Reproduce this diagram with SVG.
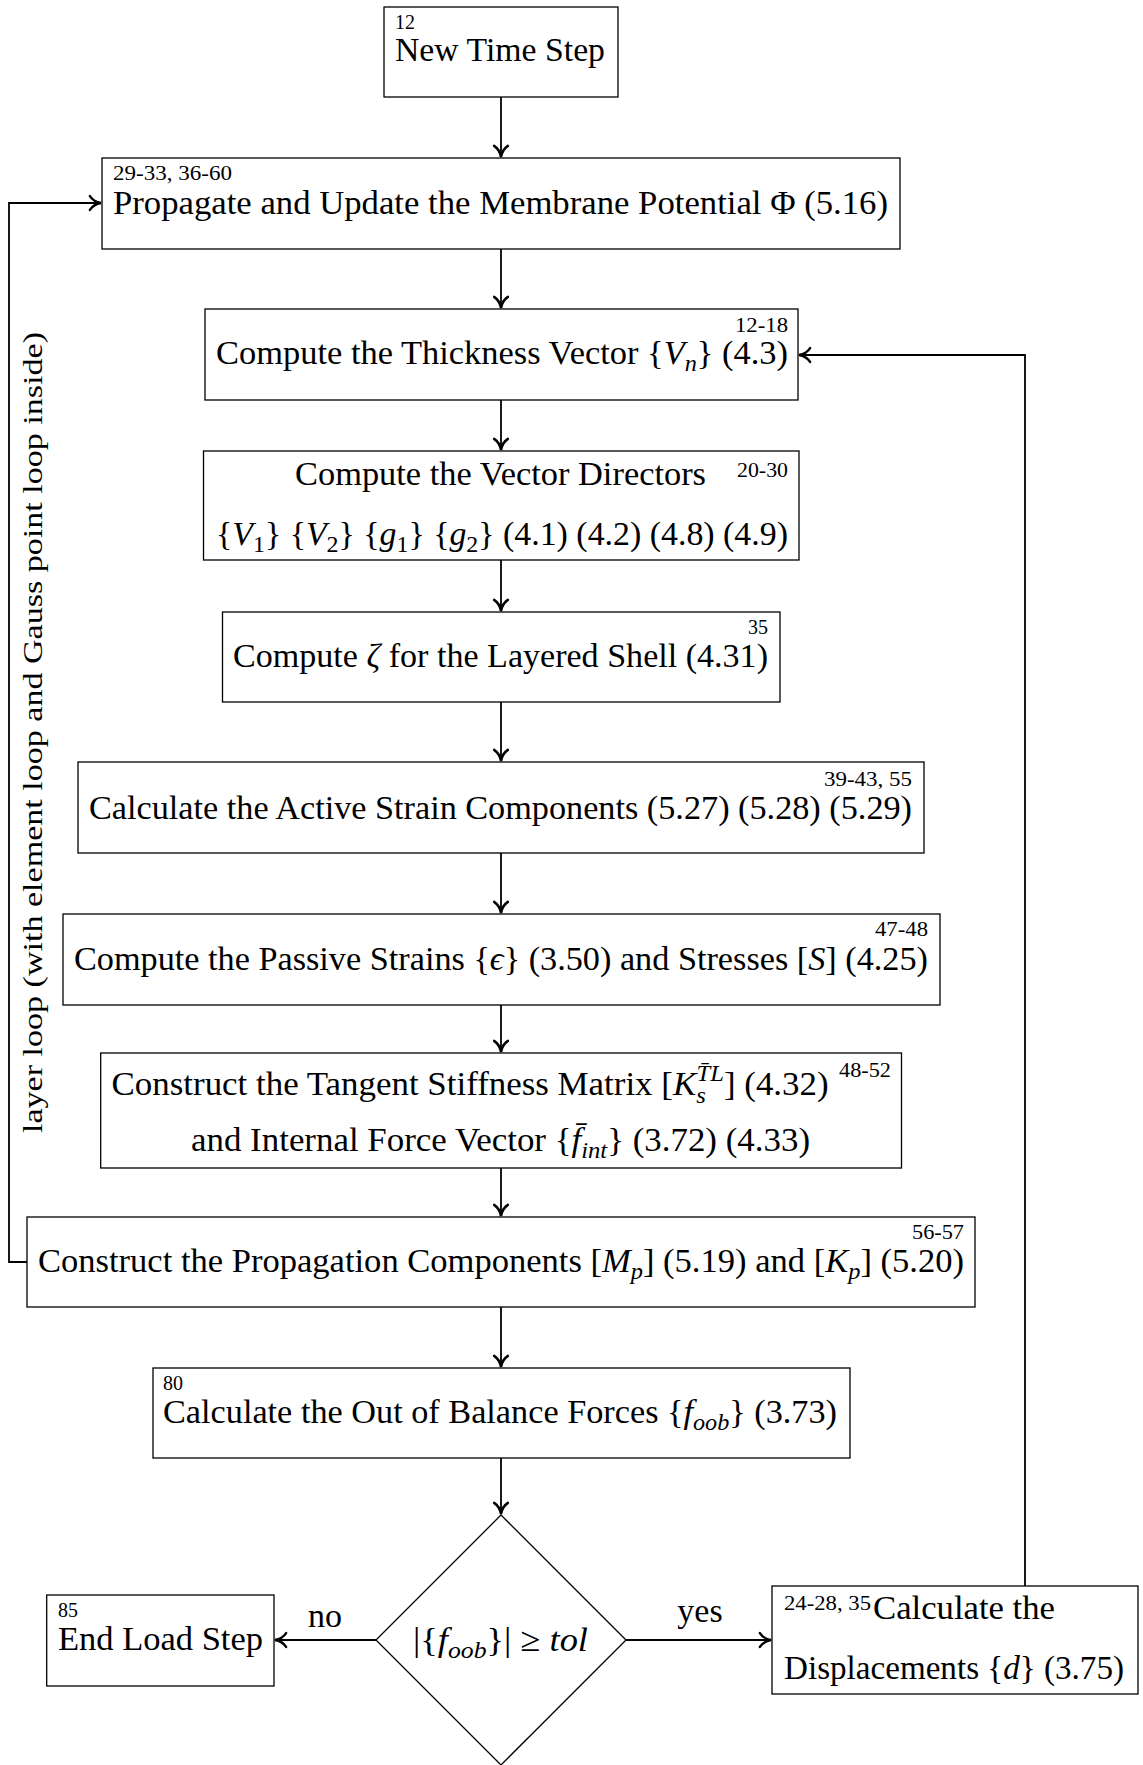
<svg xmlns="http://www.w3.org/2000/svg" width="1143" height="1765" viewBox="0 0 1143 1765">
  <style>
    .box { fill: #fff; stroke: #000; stroke-width: 1.3; }
    .t { font-family: "Liberation Serif", "Times New Roman", serif; font-size: 34px; fill: #000; }
    .sup { font-family: "Liberation Serif", "Times New Roman", serif; font-size: 20px; fill: #000; }
    .lbl { font-family: "Liberation Serif", "Times New Roman", serif; font-size: 34px; fill: #000; }
    .side { font-family: "Liberation Serif", "Times New Roman", serif; font-size: 28px; fill: #000; }
    .it { font-style: italic; }
    .sub { font-size: 24px; }
    .wire { fill: none; stroke: #000; stroke-width: 1.8; }
  </style>
  <defs>
    <marker id="tip" markerUnits="userSpaceOnUse" markerWidth="20" markerHeight="20" viewBox="-12 -9 14 18" refX="0" refY="0" orient="auto">
      <path d="M-10,-6.2 C-7.5,-2.4 -3.4,-0.6 0,0 C-3.4,0.6 -7.5,2.4 -10,6.2" fill="none" stroke="#000" stroke-width="2.2" stroke-linecap="round"/>
    </marker>
  </defs>

  <rect width="1143" height="1765" fill="#fff"/>

  <!-- connectors -->
  <g id="connectors">
    <path class="wire" d="M501,97 V157" marker-end="url(#tip)"/>
    <path class="wire" d="M501,249 V308" marker-end="url(#tip)"/>
    <path class="wire" d="M501,400 V450" marker-end="url(#tip)"/>
    <path class="wire" d="M501,560 V611" marker-end="url(#tip)"/>
    <path class="wire" d="M501,702 V761" marker-end="url(#tip)"/>
    <path class="wire" d="M501,853 V913" marker-end="url(#tip)"/>
    <path class="wire" d="M501,1005 V1052" marker-end="url(#tip)"/>
    <path class="wire" d="M501,1168 V1216" marker-end="url(#tip)"/>
    <path class="wire" d="M501,1307 V1367" marker-end="url(#tip)"/>
    <path class="wire" d="M501,1458 V1514" marker-end="url(#tip)"/>
    <path class="wire" d="M376,1640 H275" marker-end="url(#tip)"/>
    <path class="wire" d="M626,1640 H771" marker-end="url(#tip)"/>
    <!-- iteration loop back to the thickness vector -->
    <path class="wire" d="M1025,1586 V355 H799" marker-end="url(#tip)"/>
    <!-- layer loop back to the potential update -->
    <path class="wire" d="M27,1262 H9 V203 H101" marker-end="url(#tip)"/>
    <text class="lbl" x="325" y="1627" text-anchor="middle">no</text>
    <text class="lbl" x="700" y="1622" text-anchor="middle">yes</text>
    <text class="side" transform="translate(42,732.5) rotate(-90)" text-anchor="middle" textLength="801" lengthAdjust="spacingAndGlyphs">layer loop (with element loop and Gauss point loop inside)</text>
  </g>

  <g id="new-time-step">
    <rect class="box" x="384" y="7" width="234" height="90"/>
    <text class="sup" x="395" y="29">12</text>
    <text class="t" x="395" y="61" textLength="210" lengthAdjust="spacingAndGlyphs">New Time Step</text>
  </g>

  <g id="update-potential">
    <rect class="box" x="102" y="158" width="798" height="91"/>
    <text class="sup" x="113" y="180" textLength="119" lengthAdjust="spacingAndGlyphs">29-33, 36-60</text>
    <text class="t" x="113" y="214" textLength="775" lengthAdjust="spacingAndGlyphs">Propagate and Update the Membrane Potential Φ (5.16)</text>
  </g>

  <g id="thickness-vector">
    <rect class="box" x="205" y="309" width="593" height="91"/>
    <text class="sup" x="788" y="332" text-anchor="end" textLength="53" lengthAdjust="spacingAndGlyphs">12-18</text>
    <text class="t" x="216" y="364" textLength="572" lengthAdjust="spacingAndGlyphs">Compute the Thickness Vector {<tspan class="it">V</tspan><tspan class="it sub" dy="7">n</tspan><tspan dy="-7">} (4.3)</tspan></text>
  </g>

  <g id="vector-directors">
    <rect class="box" x="203.5" y="451" width="595.5" height="109"/>
    <text class="t" x="295" y="485" textLength="411" lengthAdjust="spacingAndGlyphs">Compute the Vector Directors</text>
    <text class="sup" x="737" y="477" textLength="51" lengthAdjust="spacingAndGlyphs">20-30</text>
    <text class="t" x="216" y="545" textLength="572" lengthAdjust="spacingAndGlyphs">{<tspan class="it">V</tspan><tspan class="sub" dy="7">1</tspan><tspan dy="-7">} {</tspan><tspan class="it">V</tspan><tspan class="sub" dy="7">2</tspan><tspan dy="-7">} {</tspan><tspan class="it">g</tspan><tspan class="sub" dy="7">1</tspan><tspan dy="-7">} {</tspan><tspan class="it">g</tspan><tspan class="sub" dy="7">2</tspan><tspan dy="-7">} (4.1) (4.2) (4.8) (4.9)</tspan></text>
  </g>

  <g id="layered-shell">
    <rect class="box" x="222.5" y="612" width="557.5" height="90"/>
    <text class="sup" x="768" y="634" text-anchor="end">35</text>
    <text class="t" x="233" y="667" textLength="535" lengthAdjust="spacingAndGlyphs">Compute <tspan class="it">ζ</tspan> for the Layered Shell (4.31)</text>
  </g>

  <g id="active-strain">
    <rect class="box" x="78" y="762" width="846" height="91"/>
    <text class="sup" x="912" y="786" text-anchor="end" textLength="88" lengthAdjust="spacingAndGlyphs">39-43, 55</text>
    <text class="t" x="89" y="819" textLength="823" lengthAdjust="spacingAndGlyphs">Calculate the Active Strain Components (5.27) (5.28) (5.29)</text>
  </g>

  <g id="passive-strain">
    <rect class="box" x="63" y="914" width="877" height="91"/>
    <text class="sup" x="928" y="936" text-anchor="end" textLength="53" lengthAdjust="spacingAndGlyphs">47-48</text>
    <text class="t" x="74" y="970" textLength="854" lengthAdjust="spacingAndGlyphs">Compute the Passive Strains {<tspan class="it">ϵ</tspan>} (3.50) and Stresses [<tspan class="it">S</tspan>] (4.25)</text>
  </g>

  <g id="tangent-stiffness">
    <rect class="box" x="100.7" y="1053" width="800.8" height="115"/>
    <text class="t" x="111.6" y="1095" textLength="717" lengthAdjust="spacingAndGlyphs">Construct the Tangent Stiffness Matrix [<tspan class="it">K</tspan><tspan class="it sub" dy="8">s</tspan><tspan class="it sub" dx="-9" dy="-22">T̄L</tspan><tspan dy="14">] (4.32)</tspan></text>
    <text class="sup" x="839" y="1077" textLength="52" lengthAdjust="spacingAndGlyphs">48-52</text>
    <text class="t" x="191" y="1151" textLength="619" lengthAdjust="spacingAndGlyphs">and Internal Force Vector {<tspan class="it">f̄</tspan><tspan class="it sub" dy="7">int</tspan><tspan dy="-7">} (3.72) (4.33)</tspan></text>
  </g>

  <g id="propagation-components">
    <rect class="box" x="27" y="1217" width="948" height="90"/>
    <text class="sup" x="964" y="1239" text-anchor="end" textLength="52" lengthAdjust="spacingAndGlyphs">56-57</text>
    <text class="t" x="38" y="1272" textLength="926" lengthAdjust="spacingAndGlyphs">Construct the Propagation Components [<tspan class="it">M</tspan><tspan class="it sub" dy="7">p</tspan><tspan dy="-7">] (5.19) and [</tspan><tspan class="it">K</tspan><tspan class="it sub" dy="7">p</tspan><tspan dy="-7">] (5.20)</tspan></text>
  </g>

  <g id="out-of-balance">
    <rect class="box" x="153" y="1368" width="697" height="90"/>
    <text class="sup" x="163" y="1390">80</text>
    <text class="t" x="163" y="1423" textLength="674" lengthAdjust="spacingAndGlyphs">Calculate the Out of Balance Forces {<tspan class="it">f</tspan><tspan class="it sub" dy="7">oob</tspan><tspan dy="-7">} (3.73)</tspan></text>
  </g>

  <g id="tolerance-check">
    <polygon class="box" points="501,1515 626,1640 501,1765 376,1640"/>
    <text class="t" x="413" y="1651" textLength="175" lengthAdjust="spacingAndGlyphs">|{<tspan class="it">f</tspan><tspan class="it sub" dy="7">oob</tspan><tspan dy="-7">}| ≥ </tspan><tspan class="it">tol</tspan></text>
  </g>

  <g id="end-load-step">
    <rect class="box" x="46.7" y="1595" width="227.3" height="91"/>
    <text class="sup" x="58" y="1617">85</text>
    <text class="t" x="58" y="1650" textLength="205" lengthAdjust="spacingAndGlyphs">End Load Step</text>
  </g>

  <g id="displacements">
    <rect class="box" x="772" y="1586" width="366" height="108"/>
    <text class="sup" x="784" y="1610" textLength="87" lengthAdjust="spacingAndGlyphs">24-28, 35</text>
    <text class="t" x="873" y="1619" textLength="182" lengthAdjust="spacingAndGlyphs">Calculate the</text>
    <text class="t" x="784" y="1679" textLength="340" lengthAdjust="spacingAndGlyphs">Displacements {<tspan class="it">d</tspan>} (3.75)</text>
  </g>
</svg>
